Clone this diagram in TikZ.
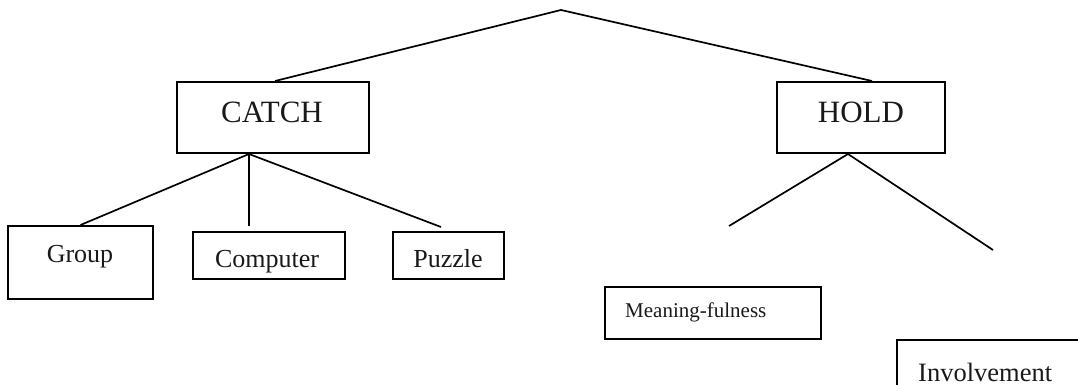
\documentclass[tikz,border=0pt]{standalone}
\usepackage{fontspec}
\setmainfont{Liberation Serif}
\usetikzlibrary{calc}
\begin{document}
\begin{tikzpicture}[x=1pt,y=-1pt,
  box/.style={draw, line width=2pt, rectangle, inner sep=0pt},
  link/.style={line width=1.7pt},
  bigtext/.style={font=\fontsize{31}{31}\selectfont, anchor=base, inner sep=0pt, text=black!90},
  midtext/.style={font=\fontsize{26}{26}\selectfont, anchor=base, inner sep=0pt, text=black!90},
  lefttext/.style={anchor=base west, inner sep=0pt, text=black!90}]
\useasboundingbox (0,0) rectangle (1078,385);
\clip (0,0) rectangle (1078,385);
% boxes
\node[box, minimum width=192pt, minimum height=71pt] (catch) at (273,117.5) {};
\node[box, minimum width=168pt, minimum height=71pt] (hold) at (861,117.5) {};
\node[box, minimum width=145pt, minimum height=73pt] (group) at (80.5,262.5) {};
\node[box, minimum width=152pt, minimum height=47pt] (computer) at (269,255.5) {};
\node[box, minimum width=111pt, minimum height=47pt] (puzzle) at (448.5,255.5) {};
\node[box, minimum width=216pt, minimum height=52pt] (meaning) at (713,313) {};
\node[box, minimum width=220pt, minimum height=80pt] (involve) at (1007,380) {};
% texts
\node[bigtext] (catchtxt) at (272,123) {CATCH};
\node[bigtext] (holdtxt) at (861,123) {HOLD};
\node[midtext] (grouptxt) at (80,262) {Group};
\node[midtext] (computertxt) at (267,267) {Computer};
\node[midtext] (puzzletxt) at (448,267) {Puzzle};
\node[lefttext, font=\fontsize{21}{21}\selectfont] (meaningtxt) at (625,317) {Meaning-fulness};
\node[lefttext, font=\fontsize{26.5}{26.5}\selectfont] (involvetxt) at (918,381) {Involvement};
% connector points
\coordinate (apex) at (561,10);
\coordinate (catchtop) at ($(catch.north)+(2,0)$);
\coordinate (holdtop) at ($(hold.north)+(11,0)$);
\coordinate (catchbot) at ($(catch.south)+(-24,0)$);
\coordinate (holdbot) at ($(hold.south)+(-13,0)$);
\coordinate (compend) at (249,226);
\coordinate (puzend) at (441,227);
\coordinate (meanend) at (729,226);
\coordinate (involend) at (993,250);
% connectors
\draw[link] (catchtop) -- (apex) -- (holdtop);
\draw[link] (group.north) -- (catchbot) -- (puzend);
\draw[link] (catchbot) -- (compend);
\draw[link] (meanend) -- (holdbot) -- (involend);
\end{tikzpicture}
\end{document}
